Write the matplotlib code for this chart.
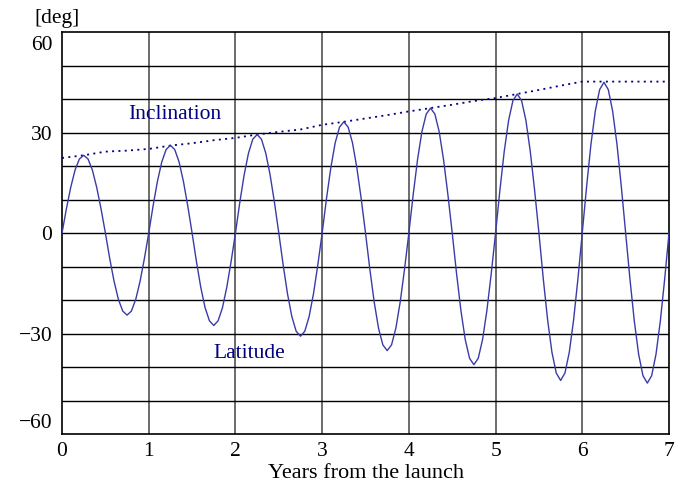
import matplotlib
matplotlib.use('Agg')
import matplotlib.pyplot as plt
import matplotlib.transforms as mtransforms
import numpy as np

plt.rcParams['font.family'] = ['Liberation Serif', 'DejaVu Serif']

# sampled every 0.05 year, 0 .. 7
years = [i * 0.05 for i in range(141)]
latitude = [
    0, 7.2, 13.6, 18.8, 22.1, 23.2, 22.1, 18.8, 13.6, 7.2,
    0, -7.6, -14.4, -19.8, -23.3, -24.5, -23.3, -19.8, -14.4, -7.6,
    0, 8.1, 15.4, 21.2, 24.9, 26.2, 24.9, 21.2, 15.4, 8.1,
    0, -8.5, -16.2, -22.3, -26.2, -27.6, -26.2, -22.3, -16.2, -8.5,
    0, 9.1, 17.3, 23.8, 28.0, 29.4, 28.0, 23.8, 17.3, 9.1,
    0, -9.5, -18.1, -24.9, -29.3, -30.8, -29.3, -24.9, -18.1, -9.5,
    0, 10.3, 19.5, 26.9, 31.6, 33.2, 31.6, 26.9, 19.5, 10.3,
    0, -10.8, -20.6, -28.4, -33.4, -35.1, -33.4, -28.4, -20.6, -10.8,
    0, 11.5, 21.9, 30.2, 35.5, 37.3, 35.5, 30.2, 21.9, 11.5,
    0, -12.1, -23.1, -31.8, -37.4, -39.3, -37.4, -31.8, -23.1, -12.1,
    0, 12.8, 24.4, 33.6, 39.5, 41.5, 39.5, 33.6, 24.4, 12.8,
    0, -13.6, -25.9, -35.6, -41.8, -44.0, -41.8, -35.6, -25.9, -13.6,
    0, 13.9, 26.5, 36.4, 42.8, 45.0, 42.8, 36.4, 26.5, 13.9,
    0, -13.8, -26.3, -36.2, -42.6, -44.8, -42.6, -36.2, -26.3, -13.8,
    0,
]

incl_years = [0, 0.25, 0.5, 0.75, 1.0, 1.25, 1.5, 1.75, 2.0, 2.25, 2.5, 2.75,
              3.0, 3.25, 3.5, 3.75, 4.0, 4.25, 4.5, 4.75, 5.0, 5.25, 5.5, 5.75,
              6.0, 6.5, 7.0]
inclination = [22.4, 23.2, 24.3, 24.6, 25.1, 26.1, 26.8, 27.7, 28.4, 29.4, 30.2, 30.9,
               32.3, 33.2, 34.2, 35.2, 36.3, 37.3, 38.3, 39.4, 40.3, 41.5, 42.7, 44.0,
               45.2, 45.2, 45.2]

xticks = [0, 1, 2, 3, 4, 5, 6, 7]
yticks = [-60, -30, 0, 30, 60]

fig = plt.figure(figsize=(6.75, 4.83), dpi=100)
ax = fig.add_axes([0.0919, 0.1014, 0.8992, 0.8323])

# grid: every year, every 10 deg
for x in xticks[1:-1]:
    ax.axvline(x, color='#444444', lw=1.1, zorder=1)
for y in range(-50, 60, 10):
    ax.axhline(y, color='black', lw=1.0, zorder=1)

ax.plot(incl_years, inclination, color='#000080', lw=1.3, ls=(0, (1.1, 2.4)), zorder=3)
ax.plot(years, latitude, color='#3b3ba8', lw=1.0, zorder=3)

ax.text(1.3, 35.4, 'Inclination', color='#000080', fontsize=15.5, ha='center', va='center')
ax.text(2.16, -36.0, 'Latitude', color='#000080', fontsize=15.5, ha='center', va='center')

ax.set_xlim(0, 7)
ax.set_ylim(-60, 60)
ax.set_xticks(xticks)
ax.set_yticks(yticks)
ax.set_yticklabels(['\u221260', '\u221230', '0', '30', '60'])
ax.tick_params(length=0, labelsize=15.5, colors='black')
ax.tick_params(axis='x', pad=6)
ax.tick_params(axis='y', pad=7)
for s in ax.spines.values():
    s.set_color('black')
    s.set_linewidth(1.2)

# keep the end labels inside the frame
labs = ax.get_yticklabels()
labs[-1].set_transform(labs[-1].get_transform() + mtransforms.ScaledTranslation(0, -0.11, fig.dpi_scale_trans))
labs[0].set_transform(labs[0].get_transform() + mtransforms.ScaledTranslation(0, 0.13, fig.dpi_scale_trans))

ax.set_xlabel('Years from the launch', fontsize=16, labelpad=2)
fig.text(57 / 675, 1 - 19 / 483, '[deg]', fontsize=15.5, ha='center', va='center')

fig.savefig('out.png', dpi=100)
